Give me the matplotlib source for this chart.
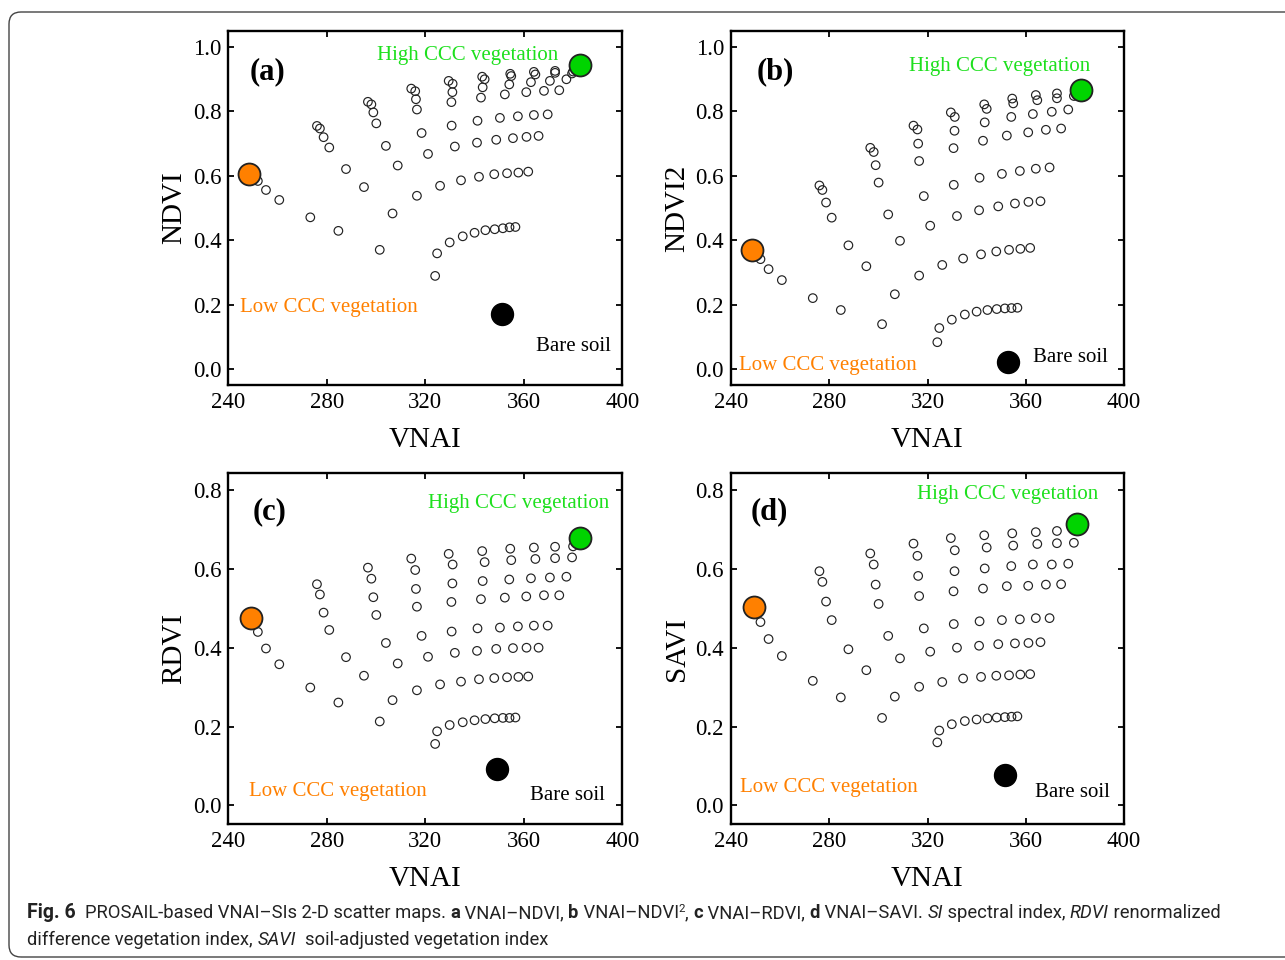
import numpy as np
import matplotlib
matplotlib.use("Agg")
import matplotlib.pyplot as plt
from matplotlib.patches import FancyBboxPatch
from matplotlib.transforms import IdentityTransform

# VNAI grid (8 rows x 10 columns), shared by all four panels
vnai = [
    [324.0, 324.8, 329.9, 335.2, 340.0, 344.4, 348.2, 351.5, 354.2, 356.6],
    [301.5, 306.7, 316.6, 326.0, 334.5, 341.8, 348.0, 353.2, 357.8, 361.8],
    [284.7, 295.1, 308.8, 321.1, 332.0, 341.0, 348.8, 355.6, 361.1, 366.0],
    [273.3, 287.8, 304.0, 318.5, 330.7, 341.2, 350.3, 357.6, 364.1, 369.7],
    [260.7, 281.0, 300.1, 316.6, 330.6, 342.6, 352.3, 361.0, 368.2, 374.4],
    [255.3, 278.7, 298.9, 316.2, 331.0, 343.3, 354.1, 362.9, 370.6, 377.3],
    [252.0, 277.2, 298.1, 315.9, 331.1, 344.1, 354.9, 364.7, 372.7, 379.6],
    [249.0, 276.0, 296.7, 314.3, 329.5, 343.1, 354.5, 364.1, 372.7, 380.0],
]

ndvi = [
    [0.289, 0.359, 0.393, 0.412, 0.423, 0.431, 0.434, 0.437, 0.440, 0.441],
    [0.370, 0.483, 0.538, 0.569, 0.586, 0.597, 0.605, 0.608, 0.610, 0.613],
    [0.429, 0.565, 0.632, 0.668, 0.691, 0.703, 0.712, 0.717, 0.721, 0.724],
    [0.471, 0.621, 0.693, 0.733, 0.756, 0.771, 0.780, 0.785, 0.789, 0.791],
    [0.525, 0.688, 0.763, 0.806, 0.829, 0.843, 0.853, 0.860, 0.864, 0.866],
    [0.556, 0.720, 0.797, 0.838, 0.860, 0.875, 0.884, 0.891, 0.895, 0.900],
    [0.584, 0.747, 0.822, 0.863, 0.886, 0.900, 0.910, 0.915, 0.920, 0.918],
    [0.606, 0.755, 0.830, 0.871, 0.895, 0.908, 0.917, 0.923, 0.926, 0.924],
]

ndvi2 = [
    [0.083, 0.127, 0.153, 0.169, 0.178, 0.183, 0.186, 0.188, 0.189, 0.190],
    [0.139, 0.232, 0.290, 0.323, 0.343, 0.356, 0.365, 0.370, 0.373, 0.376],
    [0.183, 0.319, 0.398, 0.445, 0.475, 0.493, 0.505, 0.514, 0.519, 0.521],
    [0.220, 0.384, 0.480, 0.537, 0.572, 0.594, 0.606, 0.615, 0.622, 0.626],
    [0.276, 0.470, 0.579, 0.646, 0.686, 0.709, 0.725, 0.735, 0.743, 0.747],
    [0.310, 0.517, 0.633, 0.700, 0.740, 0.766, 0.783, 0.792, 0.799, 0.806],
    [0.341, 0.556, 0.674, 0.744, 0.783, 0.808, 0.825, 0.835, 0.841, 0.848],
    [0.370, 0.570, 0.687, 0.756, 0.797, 0.822, 0.840, 0.851, 0.856, 0.862],
]

rdvi = [
    [0.156, 0.188, 0.204, 0.211, 0.216, 0.219, 0.221, 0.222, 0.222, 0.223],
    [0.213, 0.267, 0.292, 0.307, 0.314, 0.320, 0.323, 0.325, 0.326, 0.327],
    [0.261, 0.329, 0.360, 0.377, 0.387, 0.392, 0.397, 0.399, 0.400, 0.400],
    [0.299, 0.376, 0.412, 0.430, 0.441, 0.449, 0.451, 0.454, 0.456, 0.456],
    [0.358, 0.445, 0.483, 0.504, 0.516, 0.523, 0.527, 0.530, 0.533, 0.533],
    [0.398, 0.489, 0.528, 0.549, 0.563, 0.569, 0.573, 0.576, 0.578, 0.580],
    [0.440, 0.535, 0.575, 0.597, 0.611, 0.617, 0.622, 0.625, 0.627, 0.629],
    [0.474, 0.561, 0.603, 0.626, 0.638, 0.645, 0.651, 0.654, 0.656, 0.657],
]

savi = [
    [0.160, 0.190, 0.206, 0.214, 0.218, 0.221, 0.223, 0.224, 0.225, 0.226],
    [0.222, 0.276, 0.301, 0.313, 0.322, 0.326, 0.329, 0.330, 0.332, 0.333],
    [0.274, 0.343, 0.373, 0.390, 0.400, 0.405, 0.409, 0.411, 0.412, 0.414],
    [0.316, 0.396, 0.430, 0.449, 0.460, 0.467, 0.470, 0.472, 0.475, 0.475],
    [0.379, 0.470, 0.511, 0.531, 0.543, 0.550, 0.556, 0.557, 0.560, 0.561],
    [0.422, 0.517, 0.560, 0.582, 0.594, 0.601, 0.607, 0.611, 0.611, 0.613],
    [0.465, 0.567, 0.611, 0.633, 0.647, 0.654, 0.659, 0.663, 0.665, 0.666],
    [0.502, 0.594, 0.639, 0.664, 0.678, 0.685, 0.690, 0.693, 0.696, 0.700],
]

# end members, one per panel (a, b, c, d)
low_ccc_x = [248.6, 248.6, 249.4, 249.4]
low_ccc_y = [0.607, 0.369, 0.475, 0.503]
high_ccc_x = [382.8, 382.6, 382.7, 380.9]
high_ccc_y = [0.943, 0.866, 0.677, 0.714]
soil_x = [351.0, 352.9, 349.0, 351.6]
soil_y = [0.170, 0.020, 0.092, 0.077]

panel_letters = ["(a)", "(b)", "(c)", "(d)"]
y_names = ["NDVI", "NDVI2", "RDVI", "SAVI"]
x_ticks = [240, 280, 320, 360, 400]

W, H = 1285, 960
plt.rcParams['font.family'] = ['Liberation Serif', 'DejaVu Serif']

fig = plt.figure(figsize=(W / 100, H / 100), dpi=100)

# axes boxes in pixels: left, top, right, bottom
boxes = [(228.3, 31, 622.3, 385), (731, 31, 1124, 385),
         (228.3, 473, 622.3, 824), (731, 473, 1124, 824)]
ylims = [(-0.05, 1.05), (-0.05, 1.05), (-0.047, 0.843), (-0.047, 0.843)]
yticks = [np.arange(0, 1.01, 0.2), np.arange(0, 1.01, 0.2),
          np.arange(0, 0.81, 0.2), np.arange(0, 0.81, 0.2)]
series = [ndvi, ndvi2, rdvi, savi]

# text anchors in axes fraction: letter, high, low, soil
letter_pos = [(0.055, 0.885), (0.064, 0.884), (0.061, 0.889), (0.051, 0.889)]
high_pos = [(0.378, 0.932), (0.453, 0.901), (0.508, 0.912), (0.473, 0.938)]
low_pos = [(0.030, 0.220), (0.020, 0.056), (0.053, 0.094), (0.023, 0.105)]
soil_pos = [(0.970, 0.110), (0.959, 0.079), (0.957, 0.082), (0.964, 0.091)]

orange = '#ff8000'
green = '#00d400'

for i in range(4):
    l, t, r, b = boxes[i]
    ax = fig.add_axes([l / W, 1 - b / H, (r - l) / W, (b - t) / H])
    xs = np.array(vnai).ravel()
    ys = np.array(series[i]).ravel()
    ax.scatter(xs, ys, s=38, facecolors='none', edgecolors='#222222',
               linewidths=0.85, zorder=2)
    ax.scatter([low_ccc_x[i]], [low_ccc_y[i]], s=250, c=orange,
               edgecolors='#222222', linewidths=1.3, zorder=3)
    ax.scatter([high_ccc_x[i]], [high_ccc_y[i]], s=250, c=green,
               edgecolors='#222222', linewidths=1.3, zorder=3)
    ax.scatter([soil_x[i]], [soil_y[i]], s=250, c='black',
               edgecolors='black', linewidths=1.0, zorder=3)

    ax.set_xlim(240, 400)
    ax.set_ylim(*ylims[i])
    ax.set_xticks(x_ticks)
    ax.set_yticks(yticks[i])
    ax.set_yticklabels(['%.1f' % v for v in yticks[i]])
    ax.tick_params(direction='in', length=4, width=1.3, labelsize=16.5,
                   top=True, right=True, pad=5)
    for sp in ax.spines.values():
        sp.set_linewidth(1.7)

    ax.set_xlabel('VNAI', fontsize=21)
    ax.set_ylabel(y_names[i], fontsize=21)
    ax.xaxis.set_label_coords(0.5, -0.12)
    ax.yaxis.set_label_coords(-0.105, 0.5)

    tr = ax.transAxes
    ax.text(*letter_pos[i], panel_letters[i], transform=tr, fontsize=22,
            fontweight='bold', ha='left', va='center')
    ax.text(*high_pos[i], 'High CCC vegetation', transform=tr, fontsize=15,
            color='#1ee01e', ha='left', va='center')
    ax.text(*low_pos[i], 'Low CCC vegetation', transform=tr, fontsize=15,
            color=orange, ha='left', va='center')
    ax.text(*soil_pos[i], 'Bare soil', transform=tr, fontsize=15,
            color='black', ha='right', va='center')

# frame around the figure
frame = FancyBboxPatch((9, 3), 1320, 945,
                       boxstyle='round,pad=0,rounding_size=12',
                       transform=IdentityTransform(), fill=False,
                       edgecolor='#444444', linewidth=1.0)
fig.patches.append(frame)

# caption with mixed styles
renderer = fig.canvas.get_renderer()
cap_font = ['Roboto', 'DejaVu Sans']


def run_kw(style, size):
    kw = dict(family=cap_font, fontsize=size, color='#222222')
    dy = 0
    if 'b' in style:
        kw['fontweight'] = 'bold'
    if 'i' in style:
        kw['fontstyle'] = 'italic'
    if 'F' in style:
        kw['fontsize'] = size * 1.06
    if 's' in style:
        kw['fontsize'] = size * 0.62
        dy = 6
    return kw, dy


def run_width(s, **kw):
    t1 = fig.text(0, 0, '|' + s + '|', **kw)
    w1 = t1.get_window_extent(renderer).width
    t1.remove()
    t2 = fig.text(0, 0, '||', **kw)
    w2 = t2.get_window_extent(renderer).width
    t2.remove()
    return w1 - w2


def line_width(runs, size):
    return sum(run_width(txt, **run_kw(st, size)[0]) for txt, st in runs)


def draw_line(runs, x0, y0, size):
    x = x0
    for txt, st in runs:
        kw, dy = run_kw(st, size)
        fig.text(x / W, (H - y0 + dy) / H, txt, va='baseline', **kw)
        x += run_width(txt, **kw)


line1 = [("Fig. 6", 'bF'), ("  PROSAIL-based VNAI\u2013SIs 2-D scatter maps. ", ''),
         ("a", 'b'), (" VNAI\u2013NDVI, ", ''), ("b", 'b'), (" VNAI\u2013NDVI", ''),
         ("2", 's'), (", ", ''), ("c", 'b'), (" VNAI\u2013RDVI, ", ''),
         ("d", 'b'), (" VNAI\u2013SAVI. ", ''), ("SI", 'i'),
         (" spectral index, ", ''), ("RDVI", 'i'), (" renormalized", '')]
line2 = [("difference vegetation index, ", ''), ("SAVI", 'i'),
         ("  soil-adjusted vegetation index", '')]

# fit the first line to the width it has in the original caption
cap_size = 13.0
cap_size *= 1198 / line_width(line1, cap_size)
draw_line(line1, 27, 918, cap_size)
draw_line(line2, 27, 945, cap_size)

fig.savefig('out.png', dpi=100)
